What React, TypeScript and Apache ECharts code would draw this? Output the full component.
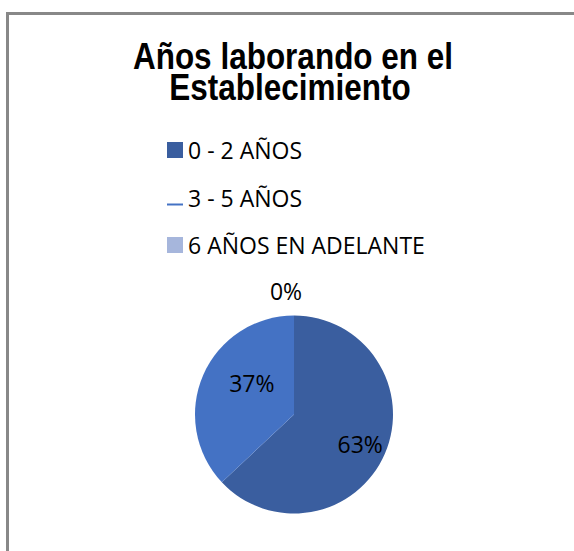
import React, { useEffect, useRef } from "react";
import * as echarts from "echarts";

const titleLines = ["Años laborando en el", "Establecimiento"];
const categories = ["0 - 2 AÑOS", "3 - 5 AÑOS", "6 AÑOS EN ADELANTE"];
const values = [63, 37, 0];
const colors = ["#3A5E9F", "#4472C4", "#A6B6DC"];
const labelOffsets: [number, number][] = [
  [18, 9],
  [6, -11],
  [-8, -71],
];
const legendIcons = [
  "rect",
  "path://M0,0 L0,0 M0,14 L16,14 L16,16 L0,16 Z",
  "rect",
];

export default function App() {
  const ref = useRef<HTMLDivElement>(null);
  useEffect(() => {
    if (!ref.current) return;
    const chart = echarts.init(ref.current, null, { renderer: "svg" });
    const titleFont = "bold 31.5px 'Liberation Sans', Arial, sans-serif";
    chart.setOption({
      animation: false,
      backgroundColor: "#ffffff",
      legend: {
        orient: "vertical",
        left: 167,
        top: 138.5,
        padding: 0,
        itemWidth: 16,
        itemHeight: 16,
        itemGap: 24.5,
        selectedMode: false,
        textStyle: {
          fontFamily: "Open Sans",
          fontSize: 23,
          lineHeight: 23,
          color: "#000000",
        },
        data: categories.map((c, i) => ({ name: c, icon: legendIcons[i] })),
      },
      graphic: [
        { type: "rect", shape: { x: 6, y: 12, width: 568, height: 3 }, style: { fill: "#888888" } },
        { type: "rect", shape: { x: 6, y: 12, width: 3, height: 539 }, style: { fill: "#888888" } },
        {
          type: "text",
          x: 293,
          y: 56,
          scaleY: 1.15,
          style: {
            text: titleLines[0],
            font: titleFont,
            fill: "#000000",
            align: "center",
            verticalAlign: "middle",
          },
        },
        {
          type: "text",
          x: 290,
          y: 87,
          scaleY: 1.15,
          style: {
            text: titleLines[1],
            font: titleFont,
            fill: "#000000",
            align: "center",
            verticalAlign: "middle",
          },
        },
      ],
      series: [
        {
          type: "pie",
          center: [294, 414.5],
          radius: [0, 99],
          startAngle: 90,
          clockwise: true,
          avoidLabelOverlap: false,
          labelLine: { show: false },
          label: {
            show: true,
            position: "inside",
            formatter: "{d}%",
            fontFamily: "Open Sans",
            fontSize: 23,
            color: "#000000",
            textBorderWidth: 0,
          },
          emphasis: { disabled: true },
          data: categories.map((c, i) => ({
            name: c,
            value: values[i],
            itemStyle: { color: colors[i] },
            label: { offset: labelOffsets[i] },
          })),
        },
      ],
    });
    return () => chart.dispose();
  }, []);
  return (
    <div
      ref={ref}
      style={{ position: "fixed", left: 0, top: 0, width: 574, height: 551 }}
    />
  );
}
